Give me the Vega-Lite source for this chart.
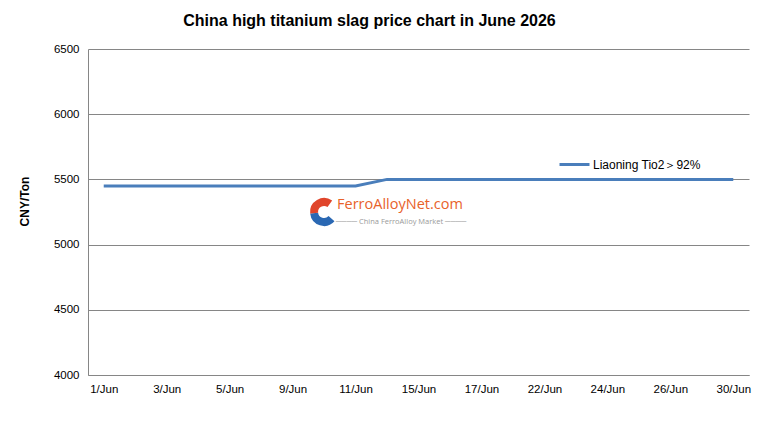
{
  "$schema": "https://vega.github.io/schema/vega-lite/v6.json",
  "width": 661,
  "height": 326,
  "autosize": {"type": "none"},
  "padding": {"left": 88, "top": 49, "right": 19, "bottom": 50},
  "background": "white",
  "title": {
    "text": "China high titanium slag price chart in June 2026",
    "font": "Liberation Sans",
    "fontSize": 16,
    "fontWeight": "bold",
    "color": "#000000",
    "anchor": "middle",
    "dx": -49,
    "offset": 14
  },
  "config": {"view": {"stroke": null}, "font": "Liberation Sans"},
  "data": {
    "values": [
      {"date": "1/Jun", "price": 5450, "series": "Liaoning Tio2＞92%"},
      {"date": "2/Jun", "price": 5450, "series": "Liaoning Tio2＞92%"},
      {"date": "3/Jun", "price": 5450, "series": "Liaoning Tio2＞92%"},
      {"date": "4/Jun", "price": 5450, "series": "Liaoning Tio2＞92%"},
      {"date": "5/Jun", "price": 5450, "series": "Liaoning Tio2＞92%"},
      {"date": "8/Jun", "price": 5450, "series": "Liaoning Tio2＞92%"},
      {"date": "9/Jun", "price": 5450, "series": "Liaoning Tio2＞92%"},
      {"date": "10/Jun", "price": 5450, "series": "Liaoning Tio2＞92%"},
      {"date": "11/Jun", "price": 5450, "series": "Liaoning Tio2＞92%"},
      {"date": "12/Jun", "price": 5500, "series": "Liaoning Tio2＞92%"},
      {"date": "15/Jun", "price": 5500, "series": "Liaoning Tio2＞92%"},
      {"date": "16/Jun", "price": 5500, "series": "Liaoning Tio2＞92%"},
      {"date": "17/Jun", "price": 5500, "series": "Liaoning Tio2＞92%"},
      {"date": "18/Jun", "price": 5500, "series": "Liaoning Tio2＞92%"},
      {"date": "22/Jun", "price": 5500, "series": "Liaoning Tio2＞92%"},
      {"date": "23/Jun", "price": 5500, "series": "Liaoning Tio2＞92%"},
      {"date": "24/Jun", "price": 5500, "series": "Liaoning Tio2＞92%"},
      {"date": "25/Jun", "price": 5500, "series": "Liaoning Tio2＞92%"},
      {"date": "26/Jun", "price": 5500, "series": "Liaoning Tio2＞92%"},
      {"date": "29/Jun", "price": 5500, "series": "Liaoning Tio2＞92%"},
      {"date": "30/Jun", "price": 5500, "series": "Liaoning Tio2＞92%"}
    ]
  },
  "layer": [
    {
      "mark": {"type": "line", "strokeWidth": 3},
      "encoding": {
        "x": {
          "field": "date",
          "type": "ordinal",
          "sort": null,
          "scale": {
            "type": "point",
            "padding": 0.5,
            "domain": ["1/Jun","2/Jun","3/Jun","4/Jun","5/Jun","8/Jun","9/Jun","10/Jun","11/Jun","12/Jun","15/Jun","16/Jun","17/Jun","18/Jun","22/Jun","23/Jun","24/Jun","25/Jun","26/Jun","29/Jun","30/Jun"]
          },
          "axis": {
            "title": null,
            "values": ["1/Jun","3/Jun","5/Jun","9/Jun","11/Jun","15/Jun","17/Jun","22/Jun","24/Jun","26/Jun","30/Jun"],
            "labelAngle": 0,
            "labelFontSize": 11.5,
            "labelColor": "#000000",
            "ticks": false,
            "labelPadding": 8,
            "domainColor": "#868686",
            "grid": false
          }
        },
        "y": {
          "field": "price",
          "type": "quantitative",
          "scale": {"domain": [4000, 6500], "nice": false, "zero": false},
          "axis": {
            "title": "CNY/Ton",
            "titleFontSize": 12,
            "titleFontWeight": "bold",
            "titleColor": "#000000",
            "titleX": -64,
            "titleY": 152,
            "titleAngle": -90,
            "titleAlign": "center",
            "titleBaseline": "middle",
            "values": [4000, 4500, 5000, 5500, 6000, 6500],
            "format": "d",
            "labelFontSize": 11.5,
            "labelColor": "#000000",
            "ticks": false,
            "labelPadding": 9,
            "domainColor": "#868686",
            "grid": true,
            "gridColor": "#868686"
          }
        },
        "color": {
          "field": "series",
          "type": "nominal",
          "scale": {"range": ["#4a7ebb"]},
          "legend": {
            "title": null,
            "orient": "none",
            "legendX": 470,
            "legendY": 99,
            "symbolType": "stroke",
            "symbolSize": 900,
            "symbolStrokeWidth": 3,
            "labelFontSize": 12,
            "labelColor": "#000000",
            "labelOffset": 2,
            "padding": 0
          }
        }
      }
    },
    {
      "data": {"values": [{"t": "FerroAlloyNet.com"}]},
      "mark": {"type": "text", "font": "Open Sans", "fontSize": 14.5, "color": "#e8622a", "align": "left", "baseline": "middle", "dx": 13},
      "encoding": {
        "x": {"datum": "10/Jun"},
        "y": {"datum": 5304},
        "text": {"field": "t"}
      }
    },
    {
      "data": {"values": [{"t": "────  China FerroAlloy Market  ────"}]},
      "mark": {"type": "text", "font": "Open Sans", "fontSize": 7.5, "color": "#9a9a9a", "align": "center", "baseline": "middle", "dx": 77},
      "encoding": {
        "x": {"datum": "10/Jun"},
        "y": {"datum": 5173},
        "text": {"field": "t"}
      }
    },
    {
      "data": {"values": [{"t": "logo"}]},
      "mark": {"type": "arc", "theta": 2.3, "theta2": 4.6, "innerRadius": 6, "outerRadius": 14, "color": "#2a68b3", "dx": -12},
      "encoding": {
        "x": {"datum": "10/Jun"},
        "y": {"datum": 5250}
      }
    },
    {
      "data": {"values": [{"t": "logo"}]},
      "mark": {"type": "arc", "theta": 4.6, "theta2": 6.9, "innerRadius": 6, "outerRadius": 14, "color": "#e0452b", "dx": -12},
      "encoding": {
        "x": {"datum": "10/Jun"},
        "y": {"datum": 5250}
      }
    }
  ]
}
